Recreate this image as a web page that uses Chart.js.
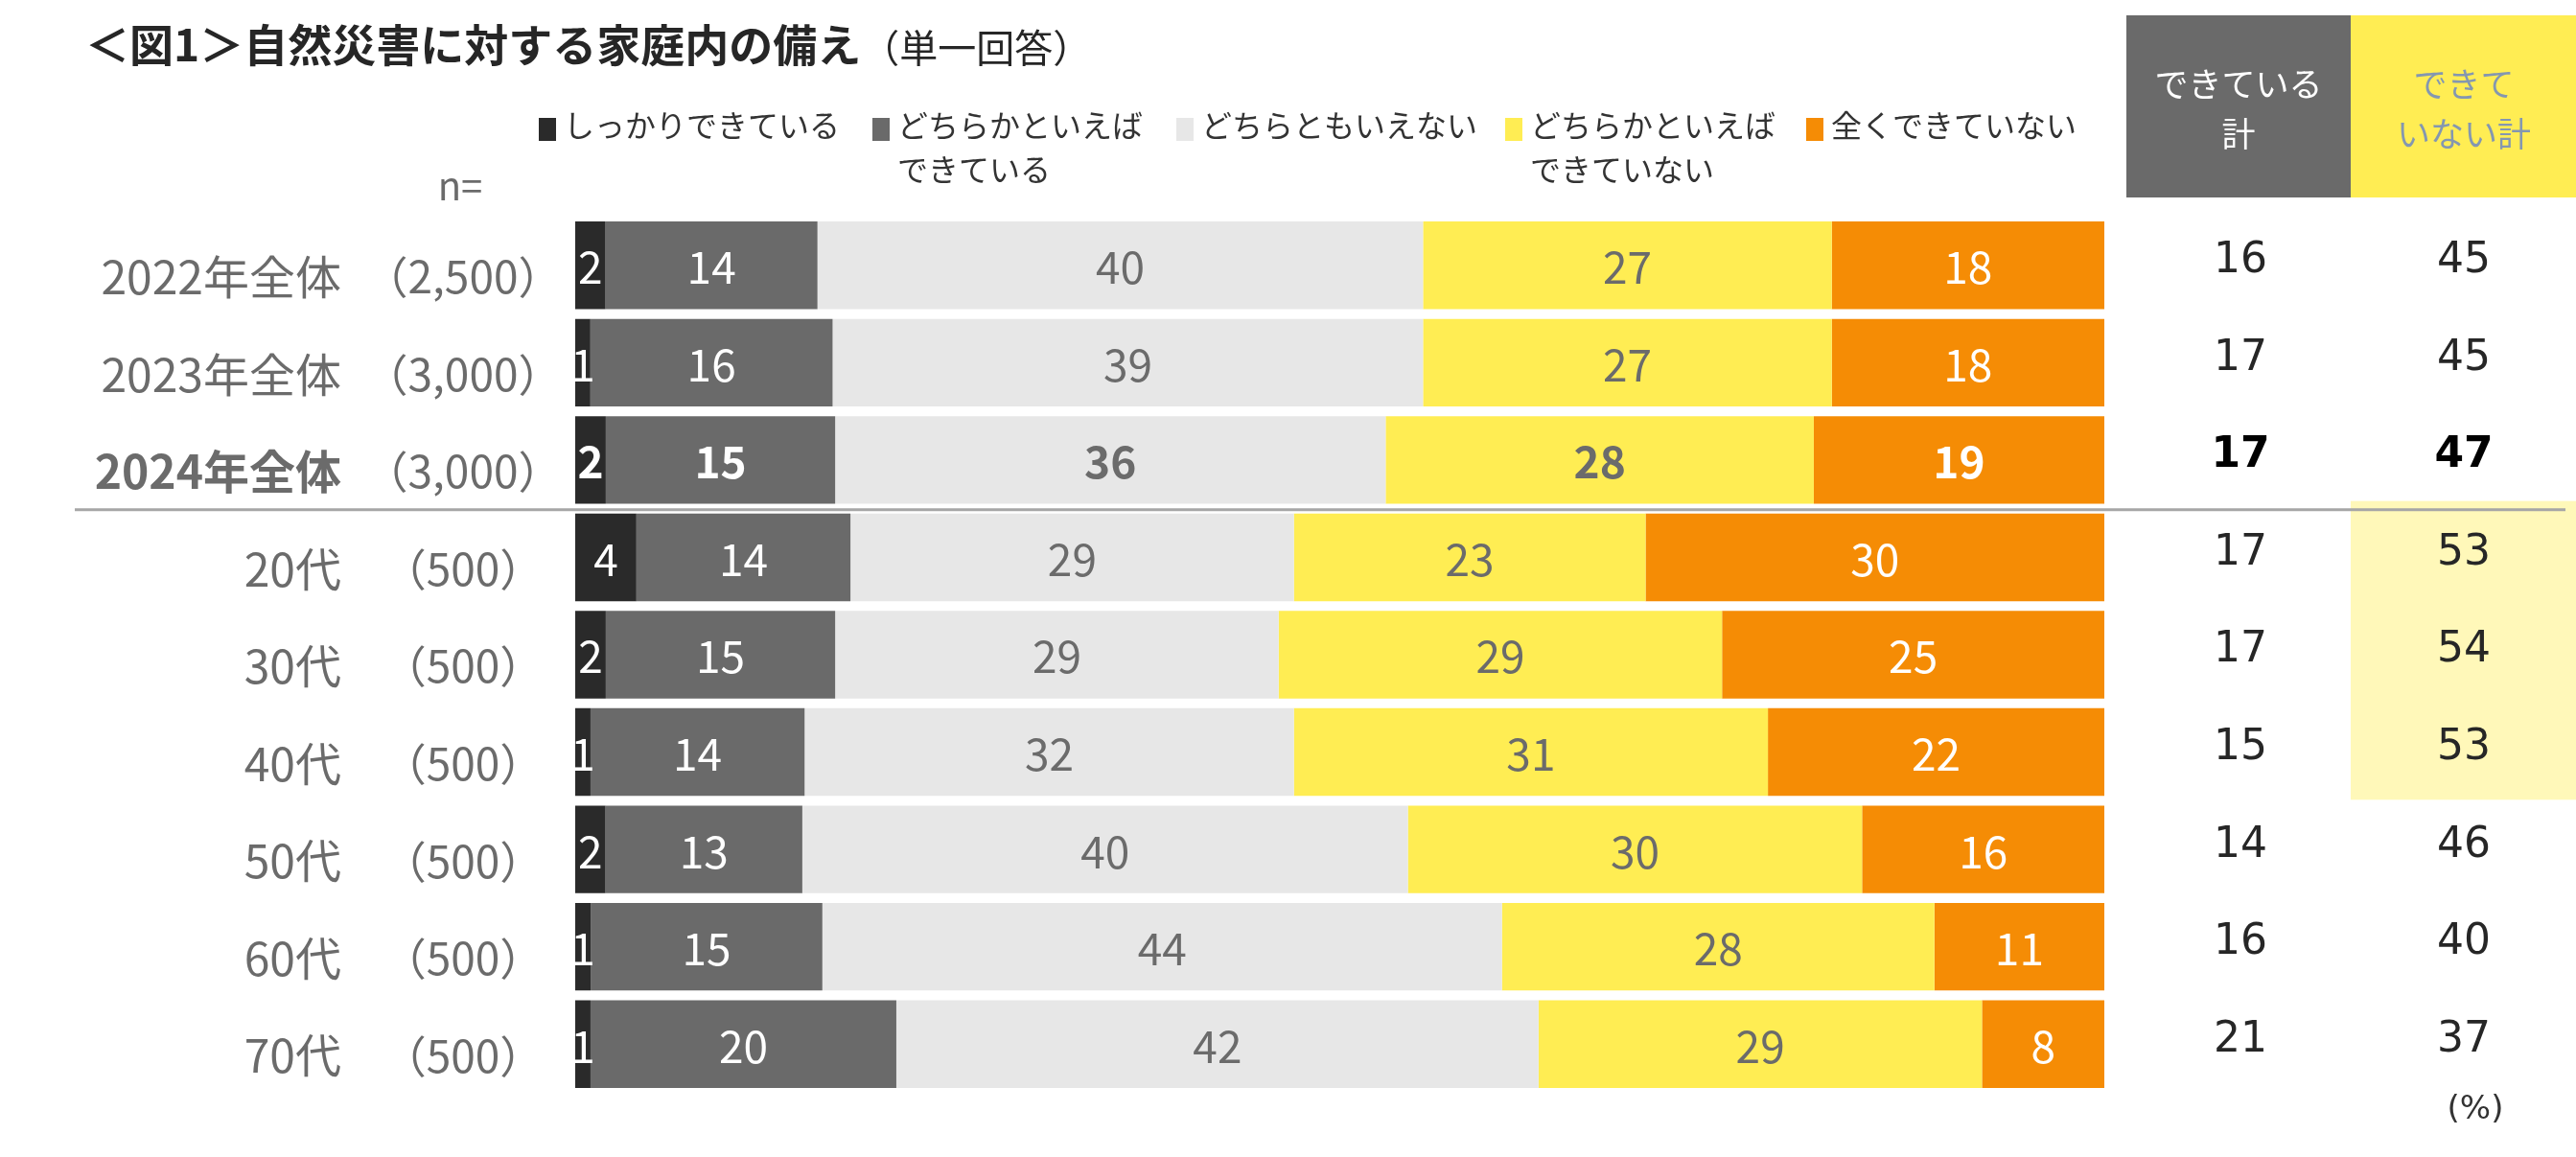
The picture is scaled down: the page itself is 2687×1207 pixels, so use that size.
<!DOCTYPE html>
<html>
<head>
<meta charset="utf-8">
<script src="https://cdn.jsdelivr.net/npm/chart.js@4"></script>
<style>
	body { margin: 0; background: #fff; }
	canvas { display: block; }
</style>
</head>
<body>
<canvas id="myChart" width="2687" height="1207" style="width:2687px;height:1207px"></canvas>
<script>
// data
var categories = ['2022年全体', '2023年全体', '2024年全体', '20代', '30代', '40代', '50代', '60代', '70代'];
var sampleSizes = ['（2,500）', '（3,000）', '（3,000）', '（500）', '（500）', '（500）', '（500）', '（500）', '（500）'];
var seriesNames = ['しっかりできている', 'どちらかといえば\nできている', 'どちらともいえない', 'どちらかといえば\nできていない', '全くできていない'];
var shikkari = [2, 1, 2, 4, 2, 1, 2, 1, 1];
var dochiraDekiteiru = [14, 16, 15, 14, 15, 14, 13, 15, 20];
var dochiraMo = [40, 39, 36, 29, 29, 32, 40, 44, 42];
var dochiraDekiteinai = [27, 27, 28, 23, 29, 31, 30, 28, 29];
var mattaku = [18, 18, 19, 30, 25, 22, 16, 11, 8];
var dekiteiruTotal = [16, 17, 17, 17, 17, 15, 14, 16, 21];
var dekiteinaiTotal = [45, 45, 47, 53, 54, 53, 46, 40, 37];
var boldRow = 2;
var highlightRows = [3, 4, 5];

var colors = ['#2a2a2a', '#6a6a6a', '#e7e7e7', '#ffed53', '#f58c05'];
var labelColors = ['#ffffff', '#ffffff', '#6b6b6b', '#6b6b6b', '#ffffff'];
var series = [shikkari, dochiraDekiteiru, dochiraMo, dochiraDekiteinai, mattaku];

var JP = '"Noto Sans CJK JP", "Noto Sans", sans-serif';

// rows do not always add up to 100 after rounding, so scale each row to 100
var rowSums = categories.map(function(c, i) {
	return series.reduce(function(s, arr) { return s + arr[i]; }, 0);
});

var datasets = series.map(function(arr, k) {
	return {
		label: seriesNames[k],
		data: arr.map(function(v, i) { return v / rowSums[i] * 100; }),
		raw: arr,
		backgroundColor: colors[k],
		borderWidth: 0,
		categoryPercentage: 0.9,
		barPercentage: 1.0
	};
});

// draw text centred on its visible ink, not its advance box
function fillInkCentered(ctx, text, cx, cy) {
	ctx.textAlign = 'left';
	var m = ctx.measureText(text);
	ctx.fillText(text, cx - (m.actualBoundingBoxRight - m.actualBoundingBoxLeft) / 2, cy);
}

var decor = {
	id: 'decor',
	beforeDraw: function(chart) {
		var ctx = chart.ctx;
		var y = chart.scales.y;
		var step = y.getPixelForValue(1) - y.getPixelForValue(0);
		ctx.save();
		ctx.fillStyle = '#fff';
		ctx.fillRect(0, 0, chart.width, chart.height);

		// header boxes
		ctx.fillStyle = '#6a6a6a';
		ctx.fillRect(2218, 16, 234, 190);
		ctx.fillStyle = '#ffed53';
		ctx.fillRect(2452, 16, 235, 190);

		// highlight behind the highest values
		var hTop = y.getPixelForValue(highlightRows[0]) - step / 2 - 8;
		var hBot = y.getPixelForValue(highlightRows[highlightRows.length - 1]) + step / 2 - 1;
		ctx.fillStyle = '#fff8b9';
		ctx.fillRect(2452, hTop, 235, hBot - hTop);
		ctx.restore();
	},
	afterDraw: function(chart) {
		var ctx = chart.ctx;
		var y = chart.scales.y;
		ctx.save();

		// title
		ctx.textBaseline = 'middle';
		ctx.textAlign = 'left';
		ctx.fillStyle = '#262626';
		ctx.font = 'bold 46px ' + JP;
		ctx.fillText('＜図1＞自然災害に対する家庭内の備え', 89, 47);
		var tw = ctx.measureText('＜図1＞自然災害に対する家庭内の備え').width;
		ctx.font = '40px ' + JP;
		ctx.fillText('（単一回答）', 89 + tw, 50);

		// legend
		var legendX = [562, 910, 1227, 1570, 1884];
		ctx.font = '32px ' + JP;
		for (var k = 0; k < seriesNames.length; k++) {
			ctx.fillStyle = colors[k];
			ctx.fillRect(legendX[k], 123, 18, 24);
			ctx.fillStyle = '#333';
			var lines = seriesNames[k].split('\n');
			for (var l = 0; l < lines.length; l++) {
				ctx.fillText(lines[l], legendX[k] + 26, 131 + l * 46);
			}
		}

		// header texts
		ctx.textAlign = 'center';
		ctx.font = '35px ' + JP;
		ctx.fillStyle = '#ffffff';
		ctx.fillText('できている', 2335, 88);
		ctx.fillText('計', 2335, 140);
		ctx.fillStyle = '#8497b0';
		ctx.fillText('できて', 2570, 88);
		ctx.fillText('いない計', 2570, 140);

		// n=
		ctx.fillStyle = '#6b6b6b';
		ctx.font = '40px ' + JP;
		ctx.fillText('n=', 480, 194);

		// category labels and sample sizes
		for (var i = 0; i < categories.length; i++) {
			var cy = y.getPixelForValue(i);
			ctx.fillStyle = '#6b6b6b';
			ctx.textAlign = 'right';
			ctx.font = (i === boldRow ? 'bold ' : '') + '48px ' + JP;
			ctx.fillText(categories[i], 356, cy + 12);
			ctx.font = '46px ' + JP;
			fillInkCentered(ctx, sampleSizes[i], 483, cy + 12);

			// totals
			ctx.textAlign = 'center';
			ctx.fillStyle = i === boldRow ? '#000' : '#262626';
			ctx.font = (i === boldRow ? 'bold ' : '') + '44px "DejaVu Sans", sans-serif';
			ctx.fillText(String(dekiteiruTotal[i]), 2337, cy - 4);
			ctx.fillText(String(dekiteinaiTotal[i]), 2570, cy - 4);
		}
		ctx.fillStyle = '#333';
		ctx.font = '34px "DejaVu Sans", sans-serif';
		ctx.textAlign = 'center';
		ctx.fillText('(%)', 2582, 1158);

		// value labels in the bars
		chart.data.datasets.forEach(function(ds, k) {
			var meta = chart.getDatasetMeta(k);
			meta.data.forEach(function(bar, i) {
				var c = bar.getCenterPoint();
				ctx.fillStyle = labelColors[k];
				ctx.font = (i === boldRow ? 'bold ' : '') + '46px ' + JP;
				ctx.fillText(String(ds.raw[i]), c.x, c.y + 2);
			});
		});

		// separator between totals and age groups
		var sepY = (y.getPixelForValue(2) + y.getPixelForValue(3)) / 2 + 1;
		ctx.strokeStyle = '#a6a6a6';
		ctx.lineWidth = 3;
		ctx.beginPath();
		ctx.moveTo(78, sepY);
		ctx.lineTo(2676, sepY);
		ctx.stroke();
		ctx.restore();
	}
};

var ctx = document.getElementById('myChart').getContext('2d');
var myChart = new Chart(ctx, {
	type: 'bar',
	data: {
		labels: categories,
		datasets: datasets
	},
	options: {
		indexAxis: 'y',
		responsive: false,
		animation: false,
		devicePixelRatio: 1,
		layout: {
			padding: { left: 600, right: 492, top: 226, bottom: 67 }
		},
		plugins: {
			legend: { display: false },
			tooltip: { enabled: false }
		},
		scales: {
			x: { stacked: true, min: 0, max: 100, display: false },
			y: { stacked: true, display: false }
		}
	},
	plugins: [decor]
});
</script>
</body>
</html>
